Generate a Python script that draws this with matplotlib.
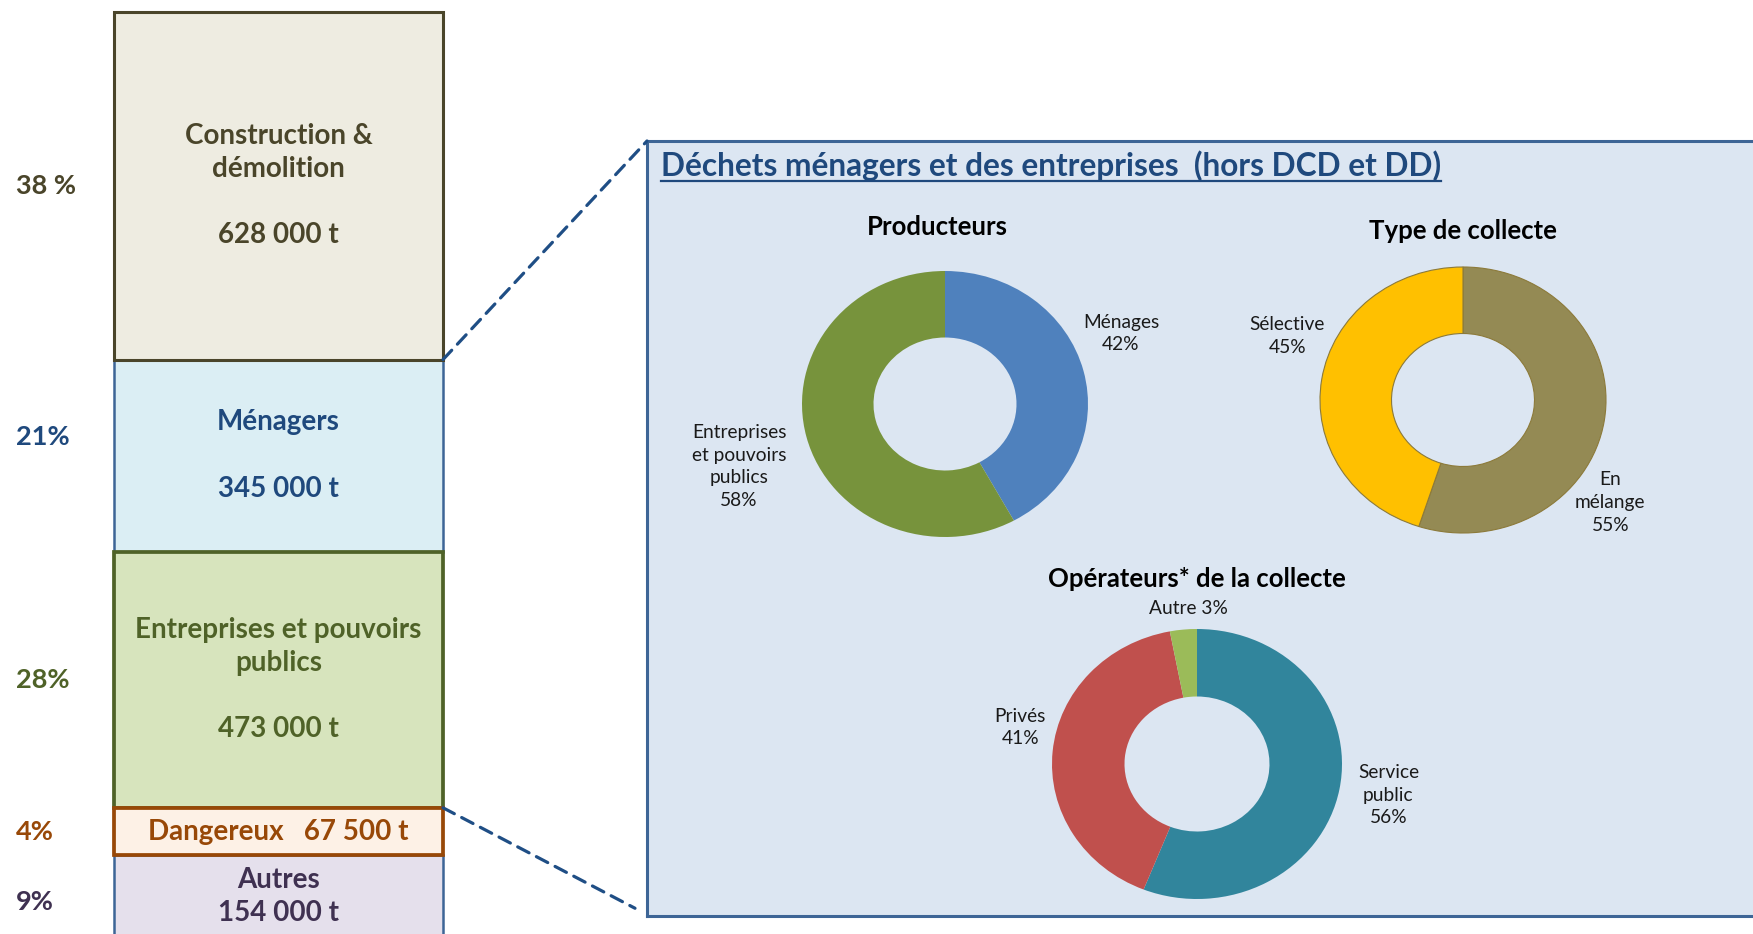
import numpy as np
import matplotlib
matplotlib.use("Agg")
import matplotlib.pyplot as plt
from matplotlib.patches import ConnectionPatch
from matplotlib.lines import Line2D

plt.rcParams['font.family'] = ['Lato', 'DejaVu Sans']

# left stack: waste produced (tonnes, share)
stack_names = ["Construction &\ndémolition", "Ménagers", "Entreprises et pouvoirs\npublics",
               "Dangereux", "Autres"]
stack_tonnes = ["628 000 t", "345 000 t", "473 000 t", "67 500 t", "154 000 t"]
stack_pct = [38, 21, 28, 4, 9]
pct_labels = ["38 %", "21%", "28%", "4%", "9%"]

# donuts
prod_names = ["Ménages", "Entreprises\net pouvoirs\npublics"]
prod_values = [42, 58]
coll_names = ["En\nmélange", "Sélective"]
coll_values = [55, 45]
oper_names = ["Service\npublic", "Privés", "Autre"]
oper_values = [56, 41, 3]

W, H = 1753, 934
fig = plt.figure(figsize=(W / 100, H / 100), dpi=100)


def px_axes(x0, y0, w, h):
    return fig.add_axes([x0 / W, 1 - (y0 + h) / H, w / W, h / H])


# ---- stacked column on the left
fills = ["#EEECE1", "#DBEEF4", "#D7E4BD", "#FDF1E6", "#E5E0EC"]
edges = ["#4A452A", "#3D6596", "#4F6228", "#984807", "#3D6596"]
txtcol = ["#4A452A", "#1F497D", "#4F6228", "#984807", "#3F3151"]
lws = [2.2, 1.8, 2.7, 2.7, 1.8]
zord = [3, 1, 3, 4, 1]
pct_dy = [0, -2.0, 0, 0, 0.6]
heights = [max(p, 5.2) for p in stack_pct]  # small class drawn a bit taller
bottoms = np.concatenate([[0], np.cumsum(heights)[:-1]])

ax = px_axes(114, 12, 329, 922)
for i in range(len(stack_pct)):
    ax.bar(0.5, heights[i], bottom=bottoms[i], width=1, color=fills[i],
           edgecolor=edges[i], linewidth=lws[i], zorder=zord[i], clip_on=False)
    mid = bottoms[i] + heights[i] / 2
    if i == 3:
        txt = stack_names[i] + "   " + stack_tonnes[i]
    elif i == 4:
        txt = stack_names[i] + "\n" + stack_tonnes[i]
    else:
        txt = stack_names[i] + "\n\n" + stack_tonnes[i]
    ax.text(0.5, mid, txt, ha="center", va="center", fontsize=20, fontweight="bold",
            color=txtcol[i], linespacing=1.34, zorder=5)
    ax.text(-0.298, mid + pct_dy[i], pct_labels[i], ha="left", va="center", fontsize=19.5,
            fontweight="bold", color=txtcol[i])
ax.set_xlim(0, 1)
ax.set_ylim(100.8, 0)
ax.axis("off")

# ---- zoom panel
panel = px_axes(647, 141, 1200, 775)
panel.set_facecolor("#DCE6F2")
panel.set_xticks([])
panel.set_yticks([])
for s in panel.spines.values():
    s.set_color("#3D6596")
    s.set_linewidth(2.2)

for (xa, ya), (xb, yb) in [((1.0, 38), (0.0, 1.0)), ((1.0, 87), (-0.01, 0.01))]:
    con = ConnectionPatch(xyA=(xa, ya), coordsA=ax.transData, xyB=(xb, yb),
                          coordsB=panel.transAxes, color="#1F4E85", lw=2.3,
                          linestyle=(0, (4, 2.6)))
    fig.add_artist(con)

title = fig.text(661 / W, 1 - 176 / H, "Déchets ménagers et des entreprises  (hors DCD et DD)",
                 fontsize=22.8, fontweight="bold", color="#1F497D", va="baseline")


def donut(cx, cy, rx, ry, values, names, colors, label_xy, head, head_xy, edge):
    a = px_axes(cx - 1.6 * rx, cy - 1.6 * ry, 3.2 * rx, 3.2 * ry)
    a.pie(values, colors=colors, startangle=90, counterclock=False, radius=1,
          wedgeprops=dict(width=0.5, edgecolor=edge, linewidth=0.8 if edge != "none" else 0))
    a.set_aspect("auto")
    a.set_xlim(-1.6, 1.6)
    a.set_ylim(-1.6, 1.6)
    a.patch.set_visible(False)
    for n, v, (x, y) in zip(names, values, label_xy):
        lab = n + " %d%%" % v if n == "Autre" else n + "\n%d%%" % v
        a.text(x, y, lab, ha="center", va="center", fontsize=13.8, color="#1a1a1a",
               linespacing=1.4)
    a.text(head_xy[0], head_xy[1], head, ha="center", va="center", fontsize=18.5,
           fontweight="bold", color="black")


donut(945, 404, 143, 133, prod_values, prod_names, ["#4F81BD", "#77933C"],
      [(1.23, 0.53), (-1.44, -0.47)], "Producteurs", (-0.055, 1.33), "none")
donut(1463, 400, 143, 133, coll_values, coll_names, ["#948A54", "#FFC000"],
      [(1.03, -0.77), (-1.23, 0.48)], "Type de collecte", (0, 1.27), "#8C7A3A")
donut(1197, 764, 145, 135, oper_values, oper_names, ["#31859C", "#C0504D", "#9BBB59"],
      [(1.32, -0.23), (-1.22, 0.27), (-0.06, 1.15)], "Opérateurs* de la collecte",
      (0, 1.37), "none")

# underline the panel title
fig.canvas.draw()
bb = title.get_window_extent()
yl = (H - 181) / H
fig.add_artist(Line2D([bb.x0 / W, bb.x1 / W], [yl, yl], transform=fig.transFigure,
                      color="#1F497D", lw=1.6))

fig.savefig("out.png", dpi=100)
